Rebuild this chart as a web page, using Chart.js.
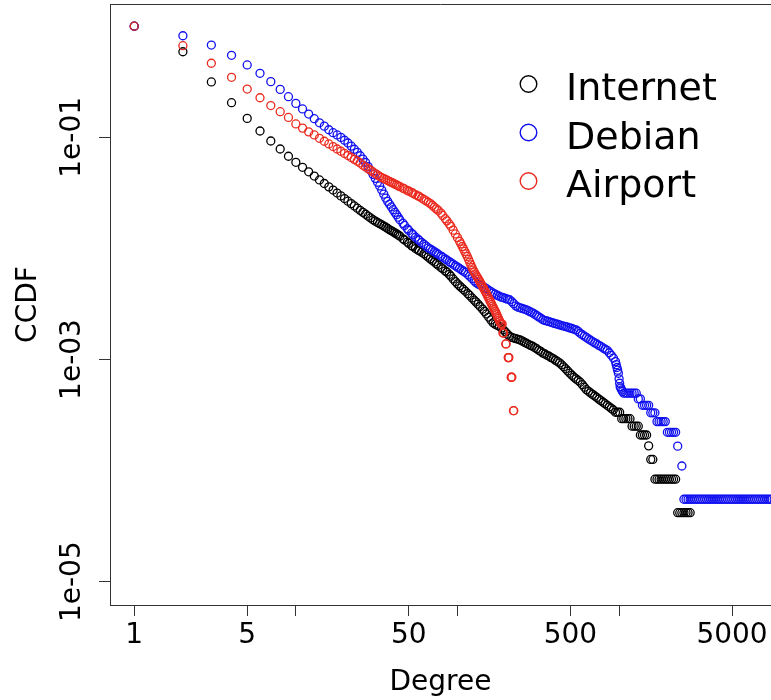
<!DOCTYPE html>
<html>
<head>
<meta charset="utf-8">
<script src="https://cdn.jsdelivr.net/npm/chart.js@4.4.1/dist/chart.umd.min.js"></script>
<style>
html, body { margin: 0; padding: 0; background: #ffffff; overflow: hidden; }
canvas { display: block; }
</style>
</head>
<body>
<canvas id="c" width="771" height="700" style="width:771px;height:700px"></canvas>
<script>
// ---- data: [degree, CCDF] ----
const internetPoints = [
[1,1],[2,0.589],[3,0.315],[4,0.205],[5,0.148],[6,0.114],[7,0.0926],[8,0.0785],[9,0.0675],[10,0.0596],
[11,0.0537],[12,0.0489],[13,0.0448],[14,0.0413],[15,0.0384],[16,0.0358],[17,0.0335],[18,0.0315],[19,0.0297],[20,0.0281],
[21,0.0266],[22,0.0253],[23,0.0241],[24,0.0230],[25,0.0220],[26,0.0211],[27,0.0203],[28,0.0195],[29,0.0188],[30,0.0181],
[31,0.0176],[32,0.0171],[33,0.0167],[34,0.0163],[35,0.0159],[36,0.0155],[37,0.0151],[38,0.0147],[39,0.0144],[40,0.0141],
[41,0.0138],[42,0.0135],[43,0.0132],[44,0.0129],[46,0.0122],[47,0.0119],[49,0.0114],[50,0.0111],[52,0.0106],[53,0.0104],
[55,0.00997],[57,0.00966],[58,0.00951],[60,0.00924],[62,0.00896],[64,0.00863],[66,0.00833],[68,0.00805],[70,0.00778],[72,0.00753],
[74,0.00729],[76,0.00706],[79,0.00674],[81,0.00655],[84,0.00628],[86,0.00612],[89,0.00583],[91,0.00562],[94,0.00531],[97,0.00503],
[100,0.00479],[103,0.0046],[106,0.00443],[109,0.00427],[112,0.00411],[116,0.00391],[119,0.00377],[123,0.00358],[127,0.00342],[130,0.0033],
[134,0.00315],[138,0.0030],[143,0.00284],[147,0.00271],[151,0.00257],[156,0.00241],[161,0.00227],[166,0.00214],[171,0.00208],[176,0.00203],
[181,0.00199],[187,0.00192],[192,0.00185],[198,0.00177],[204,0.00169],[210,0.00162],[217,0.00158],[223,0.00156],[230,0.00154],[237,0.00152],
[244,0.0015],[251,0.00147],[259,0.00143],[267,0.0014],[275,0.00137],[283,0.00134],[291,0.00132],[300,0.00128],[309,0.00125],[318,0.00121],
[328,0.00118],[338,0.00114],[348,0.00112],[358,0.00109],[369,0.00107],[380,0.00104],[391,0.00102],[403,0.000987],[415,0.00096],[428,0.000932],
[441,0.000896],[454,0.000859],[467,0.000824],[481,0.000788],[496,0.000753],[511,0.000721],[526,0.000692],[542,0.000669],[558,0.000647],[575,0.000625],
[592,0.000594],[610,0.000563],[628,0.000535],[647,0.000517],[666,0.0005],[686,0.000485],[707,0.000469],[728,0.000455],[750,0.00044],[772,0.000426],
[796,0.000412],[819,0.0004],[844,0.000387],[869,0.000375],[895,0.000363],[922,0.000351],[950,0.000335],[979,0.000335],[1008,0.000335],[1038,0.000293],
[1069,0.000293],[1101,0.000293],[1134,0.000293],[1168,0.000293],[1203,0.000251],[1240,0.000251],[1277,0.000251],[1315,0.000251],[1354,0.000209],[1395,0.000209],
[1437,0.000209],[1480,0.000209],[1524,0.000167],[1570,0.000126],[1617,0.000126],[1666,0.0000837],[1716,0.0000837],[1767,0.0000837],[1820,0.0000837],[1875,0.0000837],
[1931,0.0000837],[1989,0.0000837],[2048,0.0000837],[2110,0.0000837],[2173,0.0000837],[2238,0.0000837],[2305,0.0000418],[2374,0.0000418],[2446,0.0000418],[2519,0.0000418],
[2595,0.0000418],[2672,0.0000418],[2753,0.0000418]
];

const debianPoints = [
[1,1],[2,0.821],[3,0.677],[4,0.547],[5,0.448],[6,0.377],[7,0.317],[8,0.270],[9,0.232],[10,0.202],
[11,0.180],[12,0.162],[13,0.147],[14,0.135],[15,0.126],[16,0.117],[17,0.110],[18,0.105],[19,0.0998],[20,0.0941],
[21,0.0889],[22,0.0833],[23,0.0781],[24,0.0732],[25,0.0682],[26,0.0636],[27,0.0593],[28,0.0545],[29,0.0502],[30,0.0464],
[31,0.0427],[32,0.0394],[33,0.0365],[34,0.0335],[35,0.0308],[36,0.0284],[37,0.0265],[38,0.0250],[39,0.0236],[40,0.0223],
[41,0.0211],[42,0.0201],[43,0.0191],[44,0.0181],[46,0.0168],[47,0.0161],[49,0.0150],[50,0.0145],[52,0.0137],[53,0.0133],
[55,0.0126],[57,0.0121],[58,0.0118],[60,0.0113],[62,0.0109],[64,0.0105],[66,0.0101],[68,0.00986],[70,0.00959],[72,0.00933],
[74,0.00909],[76,0.00886],[79,0.00853],[81,0.00832],[84,0.00803],[86,0.00785],[89,0.00759],[91,0.00743],[94,0.0072],[97,0.00698],
[100,0.00678],[103,0.00659],[106,0.00641],[109,0.00624],[112,0.00608],[116,0.00583],[119,0.00562],[123,0.00536],[127,0.00511],[130,0.00494],
[134,0.00479],[138,0.00468],[143,0.00456],[147,0.00445],[151,0.00434],[156,0.0042],[161,0.00408],[166,0.00396],[171,0.00387],[176,0.00379],
[181,0.00371],[187,0.00364],[192,0.0036],[198,0.00354],[204,0.00349],[210,0.00345],[217,0.00331],[223,0.00318],[230,0.00304],[237,0.00296],
[244,0.00292],[251,0.00288],[259,0.00284],[267,0.0028],[275,0.00274],[283,0.00268],[291,0.00263],[300,0.00256],[309,0.00249],[318,0.00242],
[328,0.00235],[338,0.00228],[348,0.00224],[358,0.00222],[369,0.00219],[380,0.00216],[391,0.00213],[403,0.0021],[415,0.00208],[428,0.00205],
[441,0.00202],[454,0.0020],[467,0.00198],[481,0.00195],[496,0.00192],[511,0.0019],[526,0.00187],[542,0.00185],[558,0.00179],[575,0.00172],
[592,0.00167],[610,0.00162],[628,0.00158],[647,0.00153],[666,0.00149],[686,0.00145],[707,0.00141],[728,0.00138],[750,0.00134],[772,0.00131],
[796,0.00127],[819,0.00124],[844,0.00121],[869,0.00115],[895,0.00109],[922,0.00103],[950,0.000957],[960,0.000899],[970,0.000847],[979,0.000802],
[990,0.000752],[1000,0.00067],[1008,0.000611],[1015,0.000569],[1025,0.000552],[1038,0.000532],[1050,0.000515],[1069,0.000497],[1101,0.000497],[1134,0.000497],
[1168,0.000497],[1203,0.000497],[1240,0.000497],[1277,0.000497],[1315,0.000442],[1354,0.000442],[1395,0.000387],[1437,0.000387],[1480,0.000387],[1524,0.000387],
[1570,0.000331],[1617,0.000331],[1666,0.000331],[1716,0.000276],[1767,0.000276],[1820,0.000276],[1875,0.000276],[1931,0.000276],[1989,0.000221],[2048,0.000221],
[2110,0.000221],[2173,0.000221],[2238,0.000221],[2305,0.000166],[2446,0.00011],[2519,0.0000552],[2595,0.0000552],[2672,0.0000552],[2753,0.0000552],[2835,0.0000552],
[2920,0.0000552],[3008,0.0000552],[3098,0.0000552],[3191,0.0000552],[3287,0.0000552],[3385,0.0000552],[3487,0.0000552],[3591,0.0000552],[3699,0.0000552],[3810,0.0000552],
[3924,0.0000552],[4042,0.0000552],[4163,0.0000552],[4288,0.0000552],[4417,0.0000552],[4549,0.0000552],[4686,0.0000552],[4826,0.0000552],[4971,0.0000552],[5120,0.0000552],
[5274,0.0000552],[5432,0.0000552],[5595,0.0000552],[5763,0.0000552],[5936,0.0000552],[6114,0.0000552],[6297,0.0000552],[6486,0.0000552],[6681,0.0000552],[6881,0.0000552],
[7088,0.0000552],[7300,0.0000552],[7519,0.0000552],[7745,0.0000552],[7977,0.0000552],[8217,0.0000552],[8463,0.0000552],[8717,0.0000552],[8979,0.0000552]
];

const airportPoints = [
[1,1],[2,0.668],[3,0.464],[4,0.347],[5,0.272],[6,0.227],[7,0.193],[8,0.170],[9,0.151],[10,0.132],
[11,0.121],[12,0.112],[13,0.105],[14,0.098],[15,0.0922],[16,0.0871],[17,0.0826],[18,0.0785],[19,0.0749],[20,0.0716],
[21,0.0686],[22,0.0658],[23,0.0633],[24,0.061],[25,0.0588],[26,0.0561],[27,0.0541],[28,0.0522],[29,0.0505],[30,0.0488],
[31,0.0472],[32,0.0458],[33,0.0444],[34,0.0434],[35,0.0425],[36,0.0417],[37,0.0408],[38,0.04],[39,0.0393],[40,0.0386],
[41,0.0379],[42,0.0372],[43,0.0366],[44,0.036],[46,0.0349],[47,0.0343],[49,0.0333],[50,0.0328],[52,0.0319],[53,0.0314],
[55,0.0305],[57,0.0297],[58,0.0293],[60,0.0284],[62,0.0276],[64,0.0268],[66,0.026],[68,0.0253],[70,0.0244],[72,0.0235],
[74,0.0227],[76,0.022],[79,0.0208],[81,0.0198],[84,0.0185],[86,0.0177],[89,0.0166],[91,0.0158],[94,0.0146],[97,0.0135],
[100,0.0125],[103,0.0116],[105,0.011],[107,0.0104],[109,0.0099],[111,0.00939],[113,0.00891],[115,0.00846],[117,0.00798],[119,0.00753],
[121,0.00711],[123,0.00673],[125,0.00638],[127,0.00613],[129,0.00589],[131,0.00567],[133,0.00546],[135,0.00527],[137,0.00508],[139,0.00489],
[141,0.00471],[143,0.00454],[145,0.00438],[147,0.00422],[149,0.00407],[151,0.00392],[153,0.00377],[155,0.00363],[157,0.0035],[159,0.00337],
[161,0.00325],[163,0.00313],[165,0.00302],[167,0.00292],[169,0.00282],[171,0.00273],[173,0.00263],[175,0.00253],[177,0.00243],[179,0.00235],
[181,0.00226],[183,0.0022],[185,0.00212],[187,0.00208],[189,0.00208],[191,0.00173],[193,0.00173],[199,0.00138],[200,0.00138],[206,0.00104],
[207,0.00104],[208,0.00104],[215,0.000692],[216,0.000692],[217,0.000692],[222,0.000346],[223,0.000346]
];

const seriesNames = ['Internet', 'Debian', 'Airport'];
const xTicks = [1, 5, 10, 50, 100, 500, 1000, 5000];
const xTickLabels = ['1', '5', '', '50', '', '500', '', '5000'];
const yTicks = [1e-5, 1e-3, 1e-1];
const yTickLabels = ['1e-05', '1e-03', '1e-01'];

// ---- styling ----
const seriesColors = ['#000000', '#1010f0', '#eb2a1f'];
const FONT = "'DejaVu Sans', 'Liberation Sans', sans-serif";
Chart.defaults.font.family = FONT;

function toXY(points) { return points.map(p => ({ x: p[0], y: p[1] })); }

function makeDataset(i, points) {
  return {
    label: seriesNames[i],
    data: toXY(points),
    showLine: false,
    pointStyle: 'circle',
    pointRadius: 4,
    pointHoverRadius: 4,
    pointBorderWidth: 1.3,
    borderColor: seriesColors[i],
    pointBorderColor: seriesColors[i],
    backgroundColor: 'rgba(0,0,0,0)',
    pointBackgroundColor: 'rgba(0,0,0,0)',
    order: 3 - i
  };
}

const frameTop = {
  id: 'frameTop',
  afterDraw(chart) {
    const { ctx, chartArea: a } = chart;
    ctx.save();
    ctx.strokeStyle = '#333333';
    ctx.lineWidth = 1;
    ctx.beginPath();
    ctx.moveTo(a.left, Math.round(a.top) + 0.5);
    ctx.lineTo(a.right, Math.round(a.top) + 0.5);
    ctx.stroke();
    ctx.restore();
  }
};

const insetLegend = {
  id: 'insetLegend',
  afterDraw(chart) {
    const ctx = chart.ctx;
    ctx.save();
    ctx.font = '38px ' + FONT;
    ctx.textAlign = 'left';
    ctx.textBaseline = 'alphabetic';
    chart.data.datasets.forEach((ds, i) => {
      const cy = 84 + i * 48.5;
      ctx.beginPath();
      ctx.arc(528.5, cy, 8.3, 0, Math.PI * 2);
      ctx.strokeStyle = ds.borderColor;
      ctx.lineWidth = 1.4;
      ctx.stroke();
      ctx.fillStyle = '#000000';
      ctx.fillText(ds.label, 566, cy + 16);
    });
    ctx.restore();
  }
};

const axisGrid = { drawOnChartArea: false, drawTicks: true, tickLength: 11, color: '#333333', tickColor: '#333333', tickWidth: 1 };
const axisBorder = { display: true, color: '#333333', width: 1 };

new Chart(document.getElementById('c'), {
  type: 'scatter',
  data: {
    datasets: [
      makeDataset(0, internetPoints),
      makeDataset(1, debianPoints),
      makeDataset(2, airportPoints)
    ]
  },
  options: {
    responsive: false,
    animation: false,
    events: [],
    layout: { autoPadding: false, padding: { top: 4, left: 0, right: 0, bottom: 0 } },
    plugins: { legend: { display: false }, tooltip: { enabled: false } },
    scales: {
      x: {
        type: 'logarithmic',
        position: 'bottom',
        bounds: 'data',
        min: Math.pow(10, -0.15),
        max: Math.pow(10, 3.94),
        afterBuildTicks: s => { s.ticks = xTicks.map(v => ({ value: v })); },
        afterFit: s => { s.height = 95; s.paddingLeft = 0; s.paddingRight = 0; },
        ticks: {
          autoSkip: false, maxRotation: 0, minRotation: 0, padding: 3,
          color: '#000000', font: { size: 28 },
          callback: (v, i) => xTickLabels[i]
        },
        grid: axisGrid,
        border: axisBorder,
        title: { display: true, text: 'Degree', color: '#000000', font: { size: 28 }, padding: { top: 0, bottom: 0 } }
      },
      y: {
        type: 'logarithmic',
        position: 'left',
        bounds: 'data',
        min: Math.pow(10, -5.21),
        max: Math.pow(10, 0.2),
        afterBuildTicks: s => { s.ticks = yTicks.map(v => ({ value: v })); },
        afterFit: s => { s.width = 110; s.paddingTop = 0; s.paddingBottom = 0; },
        ticks: {
          autoSkip: false, minRotation: 90, maxRotation: 90, crossAlign: 'center', padding: -14,
          color: '#000000', font: { size: 28 },
          callback: (v, i) => yTickLabels[i]
        },
        grid: axisGrid,
        border: axisBorder,
        title: { display: true, text: 'CCDF', color: '#000000', font: { size: 28 }, padding: { top: 12, bottom: 0 } }
      }
    }
  },
  plugins: [frameTop, insetLegend]
});
</script>
</body>
</html>
